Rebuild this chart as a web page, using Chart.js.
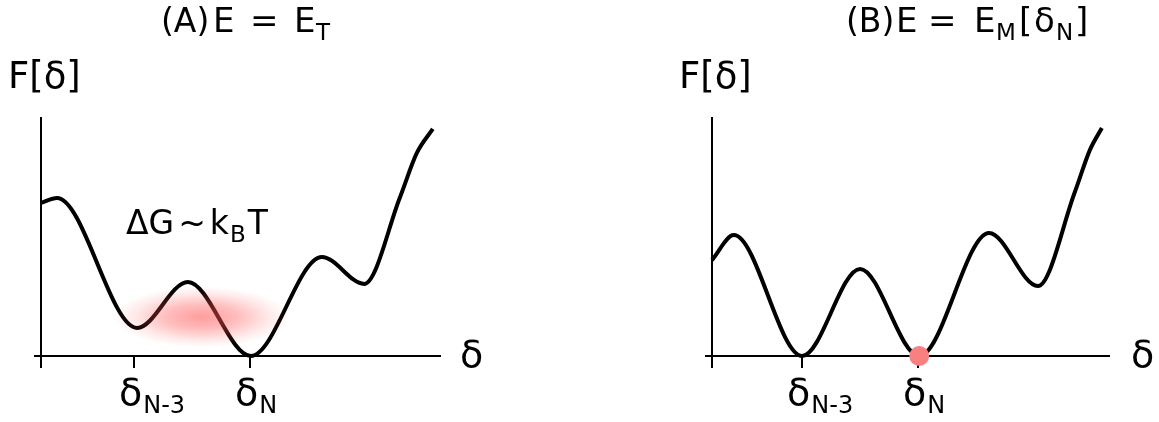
<!DOCTYPE html>
<html><head><meta charset="utf-8">
<script src="https://cdn.jsdelivr.net/npm/chart.js@4.4.1/dist/chart.umd.min.js"></script>
<style>
html,body{margin:0;padding:0;background:#fff;width:1159px;height:422px;overflow:hidden}
canvas{position:absolute;top:0}
#panelA{left:0}
#panelB{left:671px}
</style></head><body>
<canvas id="panelA" width="580" height="422"></canvas>
<canvas id="panelB" width="488" height="422"></canvas>
<script>
// ---- data (arbitrary units) ----
const deltaA = [0, 0.40, 2.41, 3.68, 5.26, 7.04, 8.10, 9.00, 9.42, 9.82];
const freeA  = [6.43, 6.64, 1.18, 3.11, 0, 4.16, 3.03, 6.68, 8.53, 9.54];
const deltaB = [0, 0.55, 2.27, 3.73, 5.22, 6.98, 8.21, 9.14, 9.52, 9.82];
const freeB  = [4.03, 5.08, 0, 3.66, 0, 5.17, 2.94, 6.89, 8.66, 9.58];
const tickA = [0, 2.33, 5.24];
const tickB = [0, 2.27, 5.19];
const tickLabelSubs = ['', 'N-3', 'N'];
const markerB = [{x: 5.22, y: 0}];
const glowA = {x: 4.03, y: 1.64, rx: 2.2, ry: 1.28};

const FONT = '"DejaVu Sans"';

function drawRuns(ctx, x, y, list){
  let cx = x;
  for (const r of list){
    if (r.x !== undefined) cx = x + r.x;
    cx += r.g || 0;
    ctx.font = r.s + 'px ' + FONT;
    ctx.fillText(r.t, cx, y + (r.dy || 0));
    cx += ctx.measureText(r.t).width;
  }
}

function textPlugin(cfg){
  return {
    id: 'texts',
    afterDraw(chart){
      const ctx = chart.ctx, ca = chart.chartArea, L = ca.left;
      ctx.save();
      ctx.fillStyle = '#000';
      ctx.textBaseline = 'alphabetic';
      ctx.textAlign = 'left';
      drawRuns(ctx, L + cfg.titleX, 32, cfg.title);
      drawRuns(ctx, L - 33, 88, [{t:'F[δ]', s:37}]);
      drawRuns(ctx, L + 419, 367, [{t:'δ', s:38}]);
      const xs = chart.scales.x;
      cfg.ticks.forEach((v, i) => {
        if (!tickLabelSubs[i]) return;
        const px = xs.getPixelForValue(v);
        drawRuns(ctx, px - 15, 405, [{t:'δ', s:38}, {t:tickLabelSubs[i], s:24, dy:8, g:1}]);
      });
      if (cfg.extra) cfg.extra(ctx, chart);
      ctx.restore();
    }
  };
}

const glowPlugin = {
  id: 'glow',
  afterDatasetsDraw(chart){
    const ctx = chart.ctx, xs = chart.scales.x, ys = chart.scales.y;
    const cx = xs.getPixelForValue(glowA.x), cy = ys.getPixelForValue(glowA.y);
    const rx = Math.abs(xs.getPixelForValue(glowA.x + glowA.rx) - cx);
    const ry = Math.abs(ys.getPixelForValue(glowA.y + glowA.ry) - cy);
    ctx.save();
    ctx.translate(cx, cy);
    ctx.scale(rx, ry);
    const g = ctx.createRadialGradient(0, 0, 0, 0, 0, 1);
    g.addColorStop(0, 'rgba(255,80,80,0.56)');
    g.addColorStop(0.4, 'rgba(255,80,80,0.38)');
    g.addColorStop(0.75, 'rgba(255,80,80,0.13)');
    g.addColorStop(1, 'rgba(255,80,80,0)');
    ctx.fillStyle = g;
    ctx.beginPath();
    ctx.arc(0, 0, 1, 0, Math.PI * 2);
    ctx.fill();
    ctx.restore();
  }
};

function makePanel(id, xs, ys, ticks, width, areaW, extraDatasets, plugins){
  const datasets = [{
    data: xs.map((x, i) => ({x, y: ys[i]})),
    borderColor: '#000', borderWidth: 4, pointRadius: 0,
    cubicInterpolationMode: 'monotone', fill: false, clip: false, order: 2
  }].concat(extraDatasets);
  return new Chart(document.getElementById(id), {
    type: 'line',
    data: {datasets},
    plugins,
    options: {
      responsive: false, animation: false, devicePixelRatio: 1,
      layout: {padding: {left: 41, right: width - 41 - areaW, top: 118, bottom: 66}},
      plugins: {legend: {display: false}, tooltip: {enabled: false}, title: {display: false}},
      scales: {
        x: {
          type: 'linear', min: 0, max: 10, position: 'bottom',
          afterFit(s){ s.height = 0; },
          afterBuildTicks(s){ s.ticks = ticks.map(v => ({value: v})); },
          ticks: {display: false},
          grid: {drawOnChartArea: false, drawTicks: true, tickLength: 12, color: '#000', lineWidth: 2},
          border: {display: true, color: '#000', width: 2}
        },
        y: {
          type: 'linear', min: 0, max: 10, position: 'left',
          afterFit(s){ s.width = 0; },
          afterBuildTicks(s){ s.ticks = [{value: 0}]; },
          ticks: {display: false},
          grid: {drawOnChartArea: false, drawTicks: true, tickLength: 7, color: '#000', lineWidth: 2},
          border: {display: true, color: '#000', width: 2}
        }
      }
    }
  });
}

makePanel('panelA', deltaA, freeA, tickA, 580, 399, [], [glowPlugin, textPlugin({
  titleX: 120,
  title: [
    {t:'(A)', s:33},
    {t:'E', s:34, x:52},
    {t:'=', s:34, x:89},
    {t:'E', s:34, x:133},
    {t:'T', s:23, dy:8, x:155}
  ],
  ticks: tickA,
  extra(ctx){
    drawRuns(ctx, 126, 234, [
      {t:'ΔG', s:33}, {t:'~', s:33, g:4}, {t:'k', s:33, g:4}, {t:'B', s:23, dy:8, g:1}, {t:'T', s:33, g:2}
    ]);
  }
})]);

makePanel('panelB', deltaB, freeB, tickB, 488, 397, [{
  data: markerB, showLine: false, pointRadius: 10, pointHoverRadius: 10,
  pointBackgroundColor: '#f98080', pointBorderWidth: 0, borderWidth: 0, clip: false, order: 1
}], [textPlugin({
  titleX: 134,
  title: [
    {t:'(B)', s:33},
    {t:'E', s:34, x:50},
    {t:'=', s:34, x:82},
    {t:'E', s:34, x:128},
    {t:'M', s:23, dy:8, x:150},
    {t:'[', s:34, x:173},
    {t:'δ', s:34, x:188},
    {t:'N', s:23, dy:8, x:210},
    {t:']', s:34, x:229}
  ],
  ticks: tickB
})]);
</script>
</body></html>
